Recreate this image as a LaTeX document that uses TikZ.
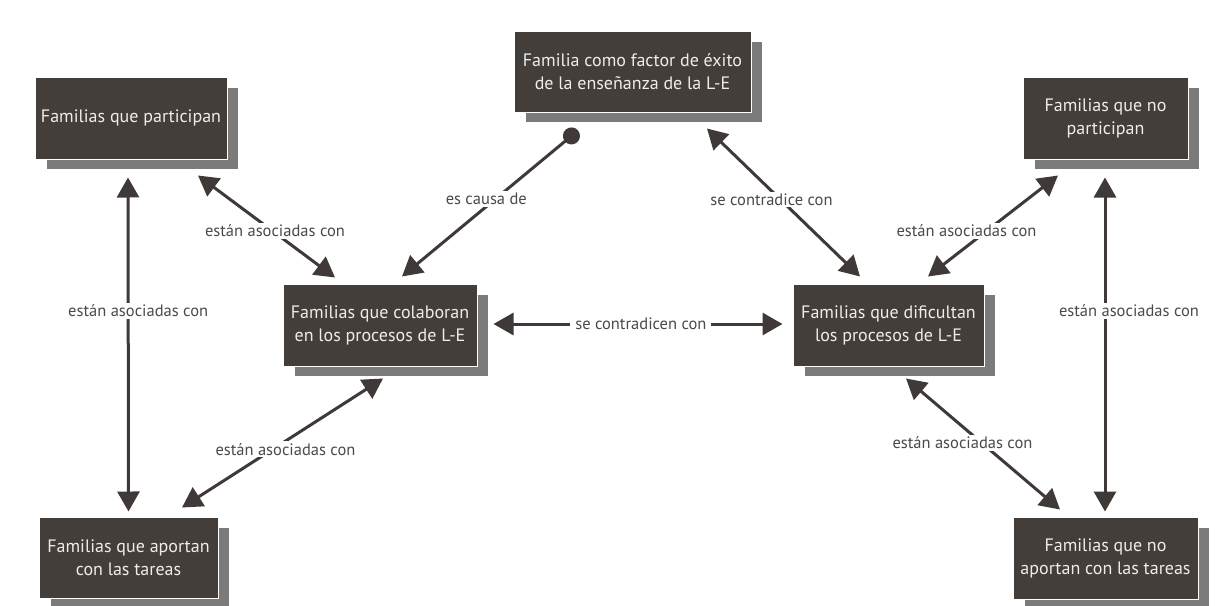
\documentclass[tikz,border=0pt]{standalone}
\usepackage{fontspec}
\setmainfont{PT Sans}
\usetikzlibrary{arrows.meta,shadows,calc}
\definecolor{boxfill}{HTML}{443E3B}
\definecolor{shadowgray}{HTML}{7B7B7B}
\definecolor{arrowcol}{HTML}{3F3A37}
\definecolor{lblcol}{HTML}{4A4A4A}
\definecolor{boxtext}{HTML}{EDEDED}
\tikzset{
  famBox/.style={draw=white, line width=1pt, fill=boxfill, text=boxtext,
    font=\fontsize{18}{23}\selectfont, align=center, inner sep=0pt,
    general shadow={shadow xshift=11pt, shadow yshift=-10pt, fill=shadowgray, draw=white, line width=1pt}},
  arr/.style={draw=arrowcol, line width=3pt, {Triangle[length=20pt,width=22pt]}-{Triangle[length=20pt,width=22pt]}},
  arrOne/.style={draw=arrowcol, line width=3pt, {Circle[length=17pt]}-{Triangle[length=20pt,width=22pt]}},
  lbl/.style={fill=white, text=lblcol, font=\fontsize{16.5}{19}\selectfont, inner xsep=5pt, inner ysep=2pt}
}
\begin{document}
\begin{tikzpicture}[x=1pt,y=-1pt]
\useasboundingbox[fill=white] (0,0) rectangle (1226,605);
% boxes
\node[famBox, minimum width=237pt, minimum height=81pt] (top) at (632.5,71.5) {Familia como factor de éxito\\de la enseñanza de la L-E};
\node[famBox, minimum width=192pt, minimum height=82pt] (part) at (131,118) {Familias que participan};
\node[famBox, minimum width=165pt, minimum height=82pt] (nopart) at (1105.5,118) {Familias que no\\participan};
\node[famBox, minimum width=194pt, minimum height=82pt] (colab) at (380,325) {Familias que colaboran\\en los procesos de L-E};
\node[famBox, minimum width=191pt, minimum height=82pt] (dific) at (888.5,325) {Familias que dificultan\\los procesos de L-E};
\node[famBox, minimum width=179pt, minimum height=81pt] (aport) at (128.5,557.5) {Familias que aportan\\con las tareas};
\node[famBox, minimum width=185pt, minimum height=82pt] (noaport) at (1105.5,558) {Familias que no\\aportan con las tareas};
% connectors
\draw[arr] ([xshift=67pt,yshift=-16pt]part.south) -- node[lbl, pos=0.54, xshift=3pt] {están asociadas con} ([xshift=-45pt,yshift=6pt]colab.north);
\draw[arr] ([xshift=-3pt,yshift=-18pt]part.south) -- node[lbl, pos=0.40, xshift=10pt] {están asociadas con} ([xshift=0pt,yshift=5pt]aport.north);
\draw[arr] ([xshift=3pt,yshift=-12pt]colab.south) -- node[lbl, pos=0.55, xshift=13pt] {están asociadas con} ([xshift=53.5pt,yshift=9pt]aport.north);
\draw[arrOne] ([xshift=-54.5pt,yshift=-18pt]top.south) -- node[lbl, pos=0.47, xshift=-9pt] {es causa de} ([xshift=22pt,yshift=7pt]colab.north);
\draw[arr] ([xshift=74.5pt,yshift=-16pt]top.south) -- node[lbl, pos=0.48, xshift=-9pt] {se contradice con} ([xshift=-28.5pt,yshift=7pt]dific.north);
\draw[arr] ([xshift=39.5pt,yshift=7pt]dific.north) -- node[lbl, pos=0.45, xshift=-20pt] {están asociadas con} ([xshift=-47.5pt,yshift=-16pt]nopart.south);
\draw[arr] ([xshift=-0.5pt,yshift=-18pt]nopart.south) -- node[lbl, pos=0.40, xshift=24pt] {están asociadas con} ([xshift=-0.5pt,yshift=5pt]noaport.north);
\draw[arr] ([xshift=17.5pt,yshift=-12pt]dific.south) -- node[lbl, pos=0.49, xshift=-19pt] {están asociadas con} ([xshift=-45.5pt,yshift=7pt]noaport.north);
\draw[arr] ([xshift=16pt,yshift=1pt]colab.east) -- node[lbl, pos=0.51] {se contradicen con} ([xshift=-10pt,yshift=1pt]dific.west);
\end{tikzpicture}
\end{document}
